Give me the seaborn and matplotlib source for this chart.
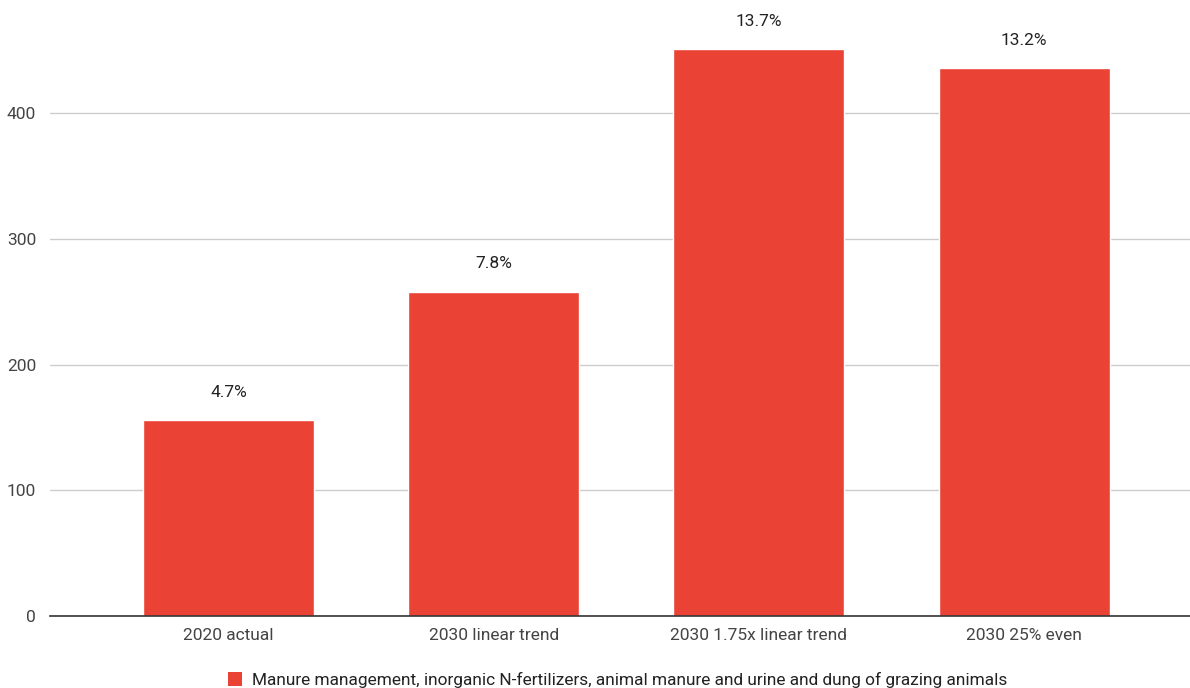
import matplotlib
matplotlib.use("Agg")
import matplotlib.pyplot as plt
import seaborn as sns
import pandas as pd

categories = ["2020 actual", "2030 linear trend", "2030 1.75x linear trend", "2030 25% even"]
values = [156, 258, 451, 436]
share_labels = ["4.7%", "7.8%", "13.7%", "13.2%"]
series_name = ("Manure management, inorganic N-fertilizers, animal manure and urine "
               "and dung of grazing animals")
y_ticks = [0, 100, 200, 300, 400]

sns.set_theme(style="white")
plt.rcParams["font.family"] = ["Roboto", "DejaVu Sans"]

bar_color = "#EA4335"
df = pd.DataFrame({"scenario": categories, "value": values})

fig = plt.figure(figsize=(11.9, 6.88), dpi=100)
ax = fig.add_axes([50 / 1190, 1 - 616 / 688, 1140 / 1190, 616 / 688])

sns.barplot(data=df, x="scenario", y="value", color=bar_color, width=0.645,
            saturation=1, ax=ax, zorder=3)

ax.set_xlim(-0.674, 3.626)
ax.set_ylim(0, 490)
ax.set_yticks(y_ticks)
ax.set_yticklabels([str(t) for t in y_ticks])
ax.grid(axis="y", color="#cccccc", linewidth=1, zorder=0)
ax.set_xlabel("")
ax.set_ylabel("")
for side in ["top", "right", "left"]:
    ax.spines[side].set_visible(False)
ax.spines["bottom"].set_color("#333333")
ax.spines["bottom"].set_linewidth(1.2)
ax.spines["bottom"].set_zorder(4)
ax.tick_params(axis="both", length=0, labelsize=12.5, labelcolor="#444444")
ax.tick_params(axis="x", pad=9)
ax.tick_params(axis="y", pad=10)

for i, (v, lab) in enumerate(zip(values, share_labels)):
    ax.annotate(lab, xy=(i, v), xytext=(0, 20), textcoords="offset points",
                ha="center", va="center", fontsize=12.5, color="#222222",
                annotation_clip=False)

handle = plt.Rectangle((0, 0), 1, 1, facecolor=bar_color, edgecolor="none")
fig.legend([handle], [series_name], loc="center", bbox_to_anchor=(0.519, 1 - 680 / 688),
           frameon=False, fontsize=12.4, handlelength=0.8, handleheight=0.8,
           handletextpad=0.55, labelcolor="#222222")

fig.savefig("out.png", dpi=100)
